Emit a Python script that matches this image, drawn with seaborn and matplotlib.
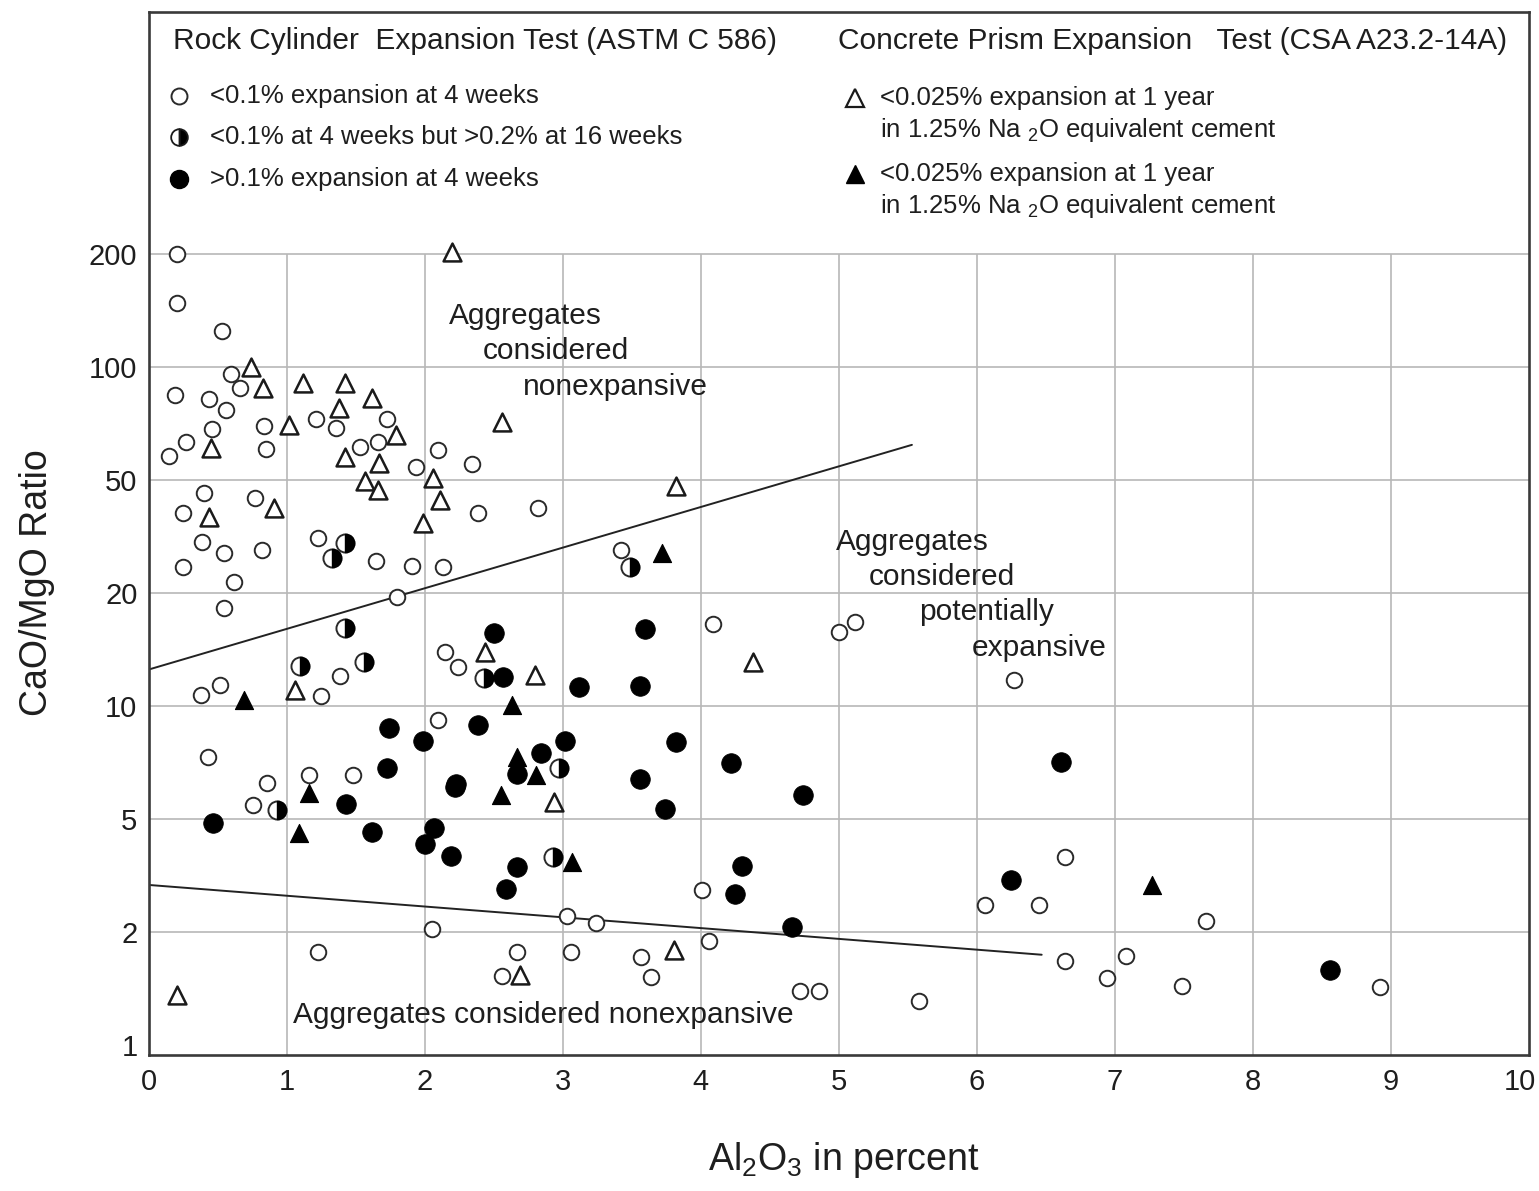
import matplotlib
matplotlib.use("Agg")
import matplotlib.pyplot as plt
from matplotlib.markers import MarkerStyle
from matplotlib.ticker import NullLocator
from matplotlib.transforms import ScaledTranslation
import numpy as np
import pandas as pd
import seaborn as sns

# values: Al2O3 (%) / CaO/MgO ratio
open_circle_al = [0.21, 0.21, 0.53, 0.60, 0.66, 0.19, 0.44, 0.56, 0.46, 0.84, 1.21, 1.36, 1.73, 0.27,
                  0.15, 0.85, 1.53, 1.66, 2.10, 1.94, 2.34, 0.40, 0.77, 0.25, 2.39, 2.82, 0.39, 0.55,
                  0.25, 0.62, 0.55, 0.82, 1.23, 1.65, 1.91, 2.13, 1.80, 2.15, 2.24, 0.38, 0.52, 1.39,
                  1.25, 2.10, 0.43, 0.86, 1.16, 1.48, 0.76, 2.05, 1.23, 2.67, 2.56, 3.03, 3.24, 3.06,
                  4.01, 3.57, 3.64, 4.06, 4.72, 4.86, 5.58, 3.42, 4.09, 5.00, 5.12, 6.27, 6.64, 6.06,
                  6.45, 6.64, 7.08, 6.94, 7.66, 7.49, 8.92]
open_circle_ratio = [200, 148, 125, 95.8, 87.9, 84.2, 82.2, 76.8, 68.4, 69.6, 72.7, 68.8, 72.7, 63.1,
                     57.9, 60.5, 61.2, 63.1, 60.1, 54.1, 55.2, 45.0, 43.2, 38.3, 38.3, 39.8, 30.2, 27.7,
                     24.7, 21.9, 18.2, 28.4, 31.2, 25.9, 24.9, 24.7, 19.5, 13.9, 12.7, 10.7, 11.4, 12.0,
                     10.6, 9.18, 7.31, 6.24, 6.55, 6.55, 5.45, 2.05, 1.77, 1.77, 1.53, 2.28, 2.15, 1.77,
                     2.81, 1.72, 1.52, 1.89, 1.39, 1.39, 1.31, 28.4, 16.5, 15.7, 16.7, 11.7, 3.68, 2.49,
                     2.49, 1.67, 1.73, 1.51, 2.19, 1.44, 1.43]

half_circle_al = [1.42, 1.33, 1.42, 1.10, 1.56, 2.43, 0.93, 2.97, 2.93, 3.49]
half_circle_ratio = [30.0, 26.6, 16.1, 12.8, 13.1, 11.9, 5.28, 6.84, 3.68, 24.7]

filled_circle_al = [0.47, 1.43, 1.62, 2.07, 2.00, 2.19, 2.67, 2.59, 2.22, 2.50, 2.57, 3.12, 1.74, 1.99,
                    2.39, 1.73, 2.23, 2.84, 3.02, 2.67, 3.60, 3.56, 3.82, 4.22, 3.56, 3.74, 4.30, 4.25,
                    4.74, 4.66, 6.61, 6.25, 8.56]
filled_circle_ratio = [4.84, 5.48, 4.50, 4.65, 4.08, 3.71, 3.39, 2.84, 6.08, 15.6, 11.95, 11.2, 8.73, 8.07,
                       8.90, 6.84, 6.20, 7.5, 8.07, 6.59, 16.0, 11.3, 8.02, 7.05, 6.39, 5.31, 3.41, 2.72,
                       5.79, 2.08, 7.09, 3.05, 1.58]

open_tri_al = [2.20, 0.74, 0.83, 1.12, 1.42, 1.62, 1.38, 1.02, 1.79, 0.45, 1.42, 1.67, 1.57, 1.66, 2.06,
               2.11, 2.56, 0.44, 0.91, 1.99, 3.82, 1.06, 2.44, 2.80, 4.38, 2.94, 3.81, 2.69, 0.21]
open_tri_ratio = [202, 100, 87.9, 90.6, 90.6, 82.7, 77.8, 70.1, 65.9, 60.9, 57.6, 55.5, 49.6, 46.1, 50.6,
                  42.5, 71.4, 37.1, 39.8, 35.3, 47.6, 11.0, 13.9, 12.1, 13.1, 5.55, 1.79, 1.54, 1.36]

filled_tri_al = [0.69, 2.63, 2.67, 2.81, 2.55, 3.07, 1.16, 1.09, 3.72, 7.27]
filled_tri_ratio = [10.4, 10.06, 7.31, 6.55, 5.79, 3.53, 5.87, 4.46, 27.7, 2.93]

# boundary lines
upper_line_al = [0.0, 5.53]
upper_line_ratio = [12.5, 62.0]
lower_line_al = [0.0, 6.47]
lower_line_ratio = [2.93, 1.74]

y_ticks = [1, 2, 5, 10, 20, 50, 100, 200]
x_ticks = list(range(0, 11))

# the y axis is evenly spaced between the labelled ratios
log_t = np.log10(y_ticks)
pos_t = np.arange(len(y_ticks), dtype=float)


def forward(v):
    lv = np.log10(np.clip(np.asarray(v, dtype=float), 1e-9, None))
    out = np.interp(lv, log_t, pos_t)
    out = np.where(lv < log_t[0], (lv - log_t[0]) / (log_t[1] - log_t[0]), out)
    out = np.where(lv > log_t[-1], pos_t[-1] + (lv - log_t[-1]) / (log_t[-1] - log_t[-2]), out)
    return out


def inverse(p):
    p = np.asarray(p, dtype=float)
    lv = np.interp(p, pos_t, log_t)
    lv = np.where(p < 0, log_t[0] + p * (log_t[1] - log_t[0]), lv)
    lv = np.where(p > pos_t[-1], log_t[-1] + (p - pos_t[-1]) * (log_t[-1] - log_t[-2]), lv)
    return 10 ** lv


sns.set_style("white")
plt.rcParams["font.family"] = ["Liberation Sans", "DejaVu Sans"]
plt.rcParams["mathtext.default"] = "regular"

INK = "#1e1e1e"
fig = plt.figure(figsize=(15.39, 11.91), dpi=100)
ax = fig.add_axes([148.5 / 1539, 1 - 1055 / 1191, 1380.5 / 1539, 1043 / 1191])

ax.set_yscale("function", functions=(forward, inverse))
y_lo, y_hi = float(inverse(-0.088)), float(inverse(9.14))
ax.set_xlim(0, 10)
ax.set_ylim(y_lo, y_hi)

# grid only below the legend block
ax.vlines(x_ticks[1:-1], y_lo, 200, color="#b8b8b8", lw=1.2, zorder=0)
ax.hlines(y_ticks[1:], 0, 10, color="#b8b8b8", lw=1.2, zorder=0)

ax.plot(upper_line_al, upper_line_ratio, color="#222222", lw=1.4, zorder=1)
ax.plot(lower_line_al, lower_line_ratio, color="#222222", lw=1.4, zorder=1)

df_open = pd.DataFrame({"al": open_circle_al, "ratio": open_circle_ratio})
df_half = pd.DataFrame({"al": half_circle_al, "ratio": half_circle_ratio})
df_fill = pd.DataFrame({"al": filled_circle_al, "ratio": filled_circle_ratio})
df_otri = pd.DataFrame({"al": open_tri_al, "ratio": open_tri_ratio})
df_ftri = pd.DataFrame({"al": filled_tri_al, "ratio": filled_tri_ratio})

sns.scatterplot(data=df_open, x="al", y="ratio", ax=ax, marker="o", s=125,
                color="white", edgecolor="#2a2a2a", linewidth=1.4, zorder=3)
sns.scatterplot(data=df_otri, x="al", y="ratio", ax=ax, marker="^", s=165,
                color="white", edgecolor="#1a1a1a", linewidth=1.8, zorder=3)
sns.scatterplot(data=df_half, x="al", y="ratio", ax=ax, marker="o", s=170,
                color="white", edgecolor="#2a2a2a", linewidth=1.4, zorder=4)
sns.scatterplot(data=df_half, x="al", y="ratio", ax=ax, marker=MarkerStyle("o", fillstyle="right"),
                s=170, color="black", edgecolor="black", linewidth=1.0, zorder=5)
sns.scatterplot(data=df_fill, x="al", y="ratio", ax=ax, marker="o", s=200,
                color="black", edgecolor="black", linewidth=0.5, zorder=4)
sns.scatterplot(data=df_ftri, x="al", y="ratio", ax=ax, marker="^", s=170,
                color="black", edgecolor="black", linewidth=0.8, zorder=4)

ax.set_xlim(0, 10)
ax.set_ylim(y_lo, y_hi)
ax.set_xticks(x_ticks)
ax.set_xticklabels([str(t) for t in x_ticks])
ax.set_yticks(y_ticks)
ax.set_yticklabels([str(t) for t in y_ticks])
ax.yaxis.set_minor_locator(NullLocator())
ax.xaxis.set_minor_locator(NullLocator())
ax.tick_params(axis="both", length=0, labelsize=21, colors=INK)
ax.tick_params(axis="x", pad=9)
ax.tick_params(axis="y", pad=8)
ax.set_xlabel("")
ax.set_ylabel("")
for sp in ax.spines.values():
    sp.set_color("#3a3a3a")
    sp.set_linewidth(1.9)

# keep the "10" inside the canvas
last = ax.get_xticklabels()[-1]
last.set_transform(last.get_transform() + ScaledTranslation(-9 / 100, 0, fig.dpi_scale_trans))

ax.text(-0.081, 0.4525, "CaO/MgO Ratio", transform=ax.transAxes, rotation=90,
        ha="center", va="center", fontsize=27, color=INK)
ax.text(0.5038, -0.1007, "Al$_2$O$_3$ in percent", transform=ax.transAxes,
        ha="center", va="center", fontsize=27, color=INK)

# region labels
def note(fx, fy, s, size=21.5):
    ax.text(fx, fy, s, transform=ax.transAxes, ha="left", va="center", fontsize=size, color=INK)

note(0.2177, 0.7085, "Aggregates")
note(0.2423, 0.6750, "considered")
note(0.2713, 0.6405, "nonexpansive")
note(0.4980, 0.4918, "Aggregates")
note(0.5220, 0.4583, "considered")
note(0.5582, 0.4247, "potentially")
note(0.5966, 0.3902, "expansive")
note(0.1047, 0.0384, "Aggregates considered nonexpansive")

# legend block drawn inside the axes
note(0.0177, 0.9722, "Rock Cylinder  Expansion Test (ASTM C 586)")
note(0.4995, 0.9722, "Concrete Prism Expansion   Test (CSA A23.2-14A)")

leg_x = 0.0221
ax.plot(leg_x, 0.9195, marker="o", ms=11.5, mfc="white", mec="#2a2a2a", mew=1.4,
        transform=ax.transAxes, clip_on=False)
ax.plot(leg_x, 0.8802, marker="o", ms=12, fillstyle="right", mfc="black", mfcalt="white",
        mec="#1a1a1a", mew=1.3, transform=ax.transAxes, clip_on=False)
ax.plot(leg_x, 0.8399, marker="o", ms=13, mfc="black", mec="black",
        transform=ax.transAxes, clip_on=False)
note(0.0445, 0.9195, "<0.1% expansion at 4 weeks", 18.5)
note(0.0445, 0.8802, "<0.1% at 4 weeks but >0.2% at 16 weeks", 18.5)
note(0.0445, 0.8399, ">0.1% expansion at 4 weeks", 18.5)

tri_x = 0.5118
ax.plot(tri_x, 0.9175, marker="^", ms=12.5, mfc="white", mec="#1a1a1a", mew=1.6,
        transform=ax.transAxes, clip_on=False)
ax.plot(tri_x, 0.8447, marker="^", ms=12.5, mfc="black", mec="black",
        transform=ax.transAxes, clip_on=False)
note(0.5299, 0.9175, "<0.025% expansion at 1 year", 18.5)
note(0.5299, 0.8869, "in 1.25% Na $_2$O equivalent cement", 18.5)
note(0.5299, 0.8447, "<0.025% expansion at 1 year", 18.5)
note(0.5299, 0.8140, "in 1.25% Na $_2$O equivalent cement", 18.5)

fig.savefig("out.png", dpi=100)
